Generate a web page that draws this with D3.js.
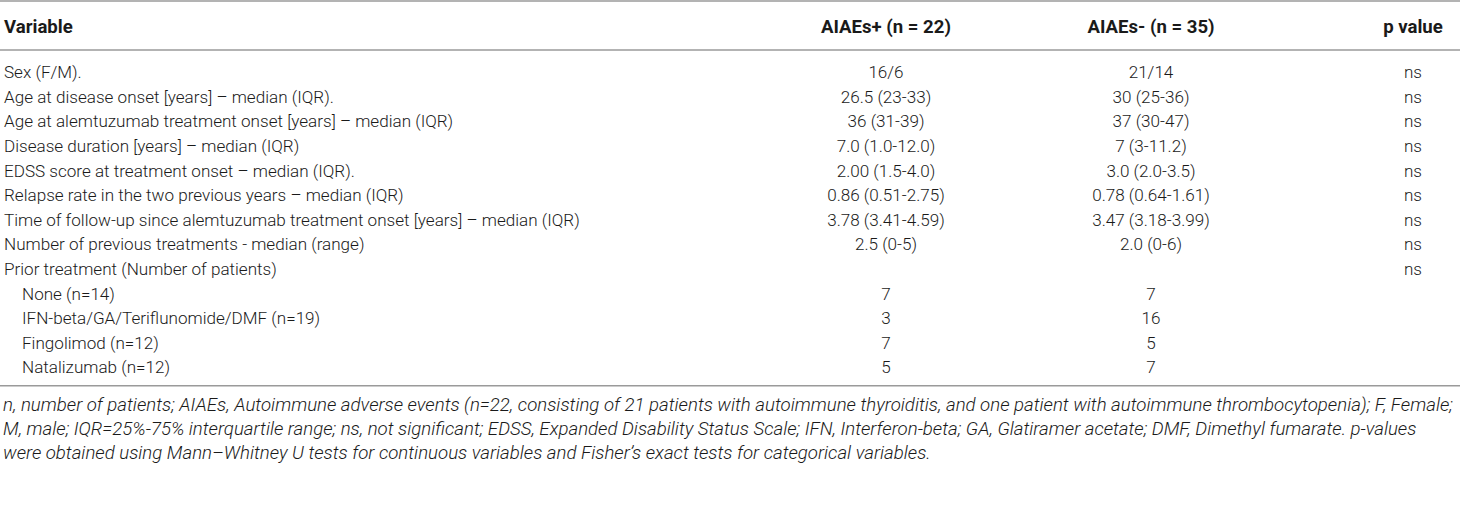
<!DOCTYPE html>
<html>
<head>
<meta charset="utf-8">
<script src="https://cdn.jsdelivr.net/npm/d3@7"></script>
<style>
  body { margin: 0; background: #fff; }
  svg { display: block; }
</style>
</head>
<body>
<svg width="1460" height="512"></svg>
<script>
// Table content
let headers = ["Variable", "AIAEs+ (n = 22)", "AIAEs- (n = 35)", "p value"];

let variables = [
  "Sex (F/M).",
  "Age at disease onset [years] \u2013 median (IQR).",
  "Age at alemtuzumab treatment onset [years] \u2013 median (IQR)",
  "Disease duration [years] \u2013 median (IQR)",
  "EDSS score at treatment onset \u2013 median (IQR).",
  "Relapse rate in the two previous years \u2013 median (IQR)",
  "Time of follow-up since alemtuzumab treatment onset [years] \u2013 median (IQR)",
  "Number of previous treatments - median (range)",
  "Prior treatment (Number of patients)",
  "None (n=14)",
  "IFN-beta/GA/Teriflunomide/DMF (n=19)",
  "Fingolimod (n=12)",
  "Natalizumab (n=12)"
];
let subRow = [0, 0, 0, 0, 0, 0, 0, 0, 0, 1, 1, 1, 1];

let aiaesPos = ["16/6", "26.5 (23-33)", "36 (31-39)", "7.0 (1.0-12.0)", "2.00 (1.5-4.0)",
  "0.86 (0.51-2.75)", "3.78 (3.41-4.59)", "2.5 (0-5)", "", "7", "3", "7", "5"];
let aiaesNeg = ["21/14", "30 (25-36)", "37 (30-47)", "7 (3-11.2)", "3.0 (2.0-3.5)",
  "0.78 (0.64-1.61)", "3.47 (3.18-3.99)", "2.0 (0-6)", "", "7", "16", "5", "7"];
let pValues = ["ns", "ns", "ns", "ns", "ns", "ns", "ns", "ns", "ns", "", "", "", ""];

let footnotes = [
  "n, number of patients; AIAEs, Autoimmune adverse events (n=22, consisting of 21 patients with autoimmune thyroiditis, and one patient with autoimmune thrombocytopenia); F, Female;",
  "M, male; IQR=25%-75% interquartile range; ns, not significant; EDSS, Expanded Disability Status Scale; IFN, Interferon-beta; GA, Glatiramer acetate; DMF, Dimethyl fumarate. p-values",
  "were obtained using Mann\u2013Whitney U tests for continuous variables and Fisher\u2019s exact tests for categorical variables."
];

let svg = d3.select("svg");
let font = "Roboto, 'Liberation Sans', sans-serif";
let ruleColor = "#9a9a9a";
let textColor = "#1a1a1a";

// find a font size so that a sample string spans the target width
function fitSize(str, target, weight, style) {
  let t = svg.append("text")
    .attr("font-family", font)
    .attr("font-weight", weight)
    .attr("font-style", style || "normal")
    .attr("font-size", 20)
    .text(str);
  let w = t.node().getComputedTextLength();
  t.remove();
  return 20 * target / w;
}
let headSize = fitSize(headers[1], 130, 700);
let bodySize = fitSize(variables[6], 576, 300);
let footSize = fitSize(footnotes[0], 1451, 300, "italic");

// Column centres for the value columns
let colX = [4, 886, 1151, 1413];

// Row positions
let y = d3.scaleBand()
  .domain(d3.range(variables.length))
  .range([60, 60 + 24.6 * variables.length]);

// Rules
let rules = [1, 50, y.range()[1] + 6];
svg.selectAll("line.rule")
  .data(rules)
  .enter().append("line")
  .attr("class", "rule")
  .attr("x1", 0).attr("x2", 1460)
  .attr("y1", d => d).attr("y2", d => d)
  .attr("stroke", ruleColor)
  .attr("stroke-width", 1.5);

// Header
svg.selectAll("text.head")
  .data(headers)
  .enter().append("text")
  .attr("class", "head")
  .attr("x", (d, i) => colX[i])
  .attr("y", 26)
  .attr("dy", "0.35em")
  .attr("text-anchor", (d, i) => i === 0 ? "start" : "middle")
  .attr("font-family", font)
  .attr("font-weight", 700)
  .attr("font-size", headSize)
  .attr("fill", textColor)
  .text(d => d);

// Body rows
let rows = svg.selectAll("g.row")
  .data(variables)
  .enter().append("g")
  .attr("class", "row")
  .attr("transform", (d, i) => "translate(0," + (y(i) + y.bandwidth() / 2) + ")");

let cell = (sel, x, anchor, fn) => sel.append("text")
  .attr("x", x)
  .attr("dy", "0.35em")
  .attr("text-anchor", anchor)
  .attr("font-family", font)
  .attr("font-weight", 300)
  .attr("font-size", bodySize)
  .attr("fill", textColor)
  .text(fn);

cell(rows, 0, "start", d => d).attr("x", (d, i) => subRow[i] ? 22 : 4);
cell(rows, colX[1], "middle", (d, i) => aiaesPos[i]);
cell(rows, colX[2], "middle", (d, i) => aiaesNeg[i]);
cell(rows, colX[3], "middle", (d, i) => pValues[i]);

// Footnotes
let fy = rules[2] + 19;
svg.selectAll("text.foot")
  .data(footnotes)
  .enter().append("text")
  .attr("class", "foot")
  .attr("x", 3)
  .attr("y", (d, i) => fy + i * 24)
  .attr("dy", "0.35em")
  .attr("font-family", font)
  .attr("font-weight", 300)
  .attr("font-style", "italic")
  .attr("font-size", footSize)
  .attr("fill", textColor)
  .text(d => d);
</script>
</body>
</html>
